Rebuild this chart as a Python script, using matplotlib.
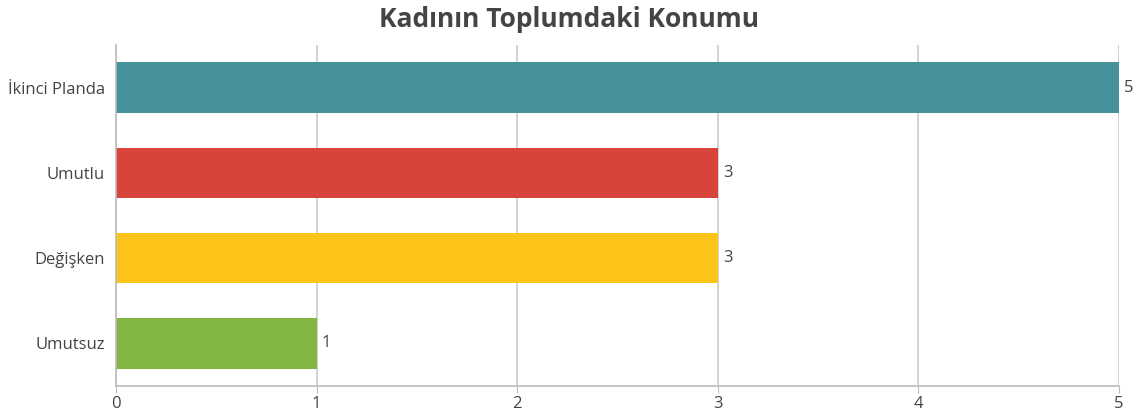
import matplotlib
matplotlib.use("Agg")
import matplotlib.pyplot as plt

categories = ["İkinci Planda", "Umutlu", "Değişken", "Umutsuz"]
values = [5, 3, 3, 1]
colors = ["#46929b", "#d8433c", "#fcc419", "#82b541"]
x_ticks = [0, 1, 2, 3, 4, 5]

plt.rcParams["font.family"] = ["Open Sans", "DejaVu Sans"]

fig = plt.figure(figsize=(11.38, 4.16), dpi=100)
ax = fig.add_axes([0.1019, 0.0721, 0.8814, 0.8197])

y_pos = list(range(len(categories)))
ax.barh(y_pos, values, height=0.59, color=colors, zorder=2)

for y, v in zip(y_pos, values):
    ax.text(v + 0.025, y, str(v), va="center", ha="left",
            fontsize=12, color="#444444")

ax.set_yticks(y_pos)
ax.set_yticklabels(categories)
ax.set_ylim(len(categories) - 0.5, -0.5)
ax.set_xlim(0, 5)
ax.set_xticks(x_ticks)

ax.grid(axis="x", color="#cccccc", linewidth=1.2, zorder=0)
ax.set_axisbelow(True)

for side in ["top", "right"]:
    ax.spines[side].set_visible(False)
for side in ["left", "bottom"]:
    ax.spines[side].set_color("#bbbbbb")
    ax.spines[side].set_linewidth(1.2)

ax.tick_params(axis="y", length=0, pad=8, labelsize=12, labelcolor="#444444")
ax.tick_params(axis="x", length=5, color="#bbbbbb", pad=2, labelsize=12,
               labelcolor="#444444")

fig.text(0.5, 0.952, "Kadının Toplumdaki Konumu", ha="center", va="center",
         fontsize=19, fontweight="bold", color="#444444")

fig.savefig("out.png", dpi=100)
